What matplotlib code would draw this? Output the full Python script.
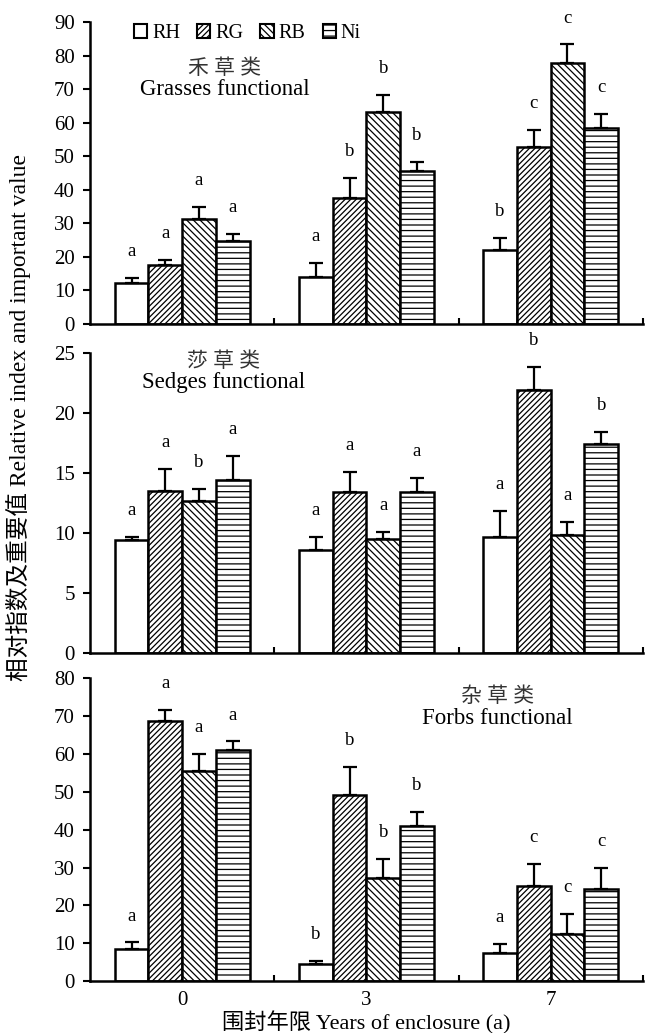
import matplotlib
matplotlib.use("Agg")
import matplotlib.pyplot as plt
from matplotlib.patches import Patch
import numpy as np

plt.rcParams['font.family'] = ['Liberation Serif', 'Noto Sans CJK SC']
plt.rcParams['hatch.linewidth'] = 0.9
plt.rcParams['axes.unicode_minus'] = False

years = ["0", "3", "7"]
series = ["RH", "RG", "RB", "Ni"]
hatches = ["", "//////", "\\\\\\\\\\", "---"]

# grasses functional group
grass_mean = [[12.2, 14.1, 22.0],
              [17.6, 37.4, 52.8],
              [31.4, 63.3, 77.7],
              [24.8, 45.7, 58.5]]
grass_err = [[1.5, 4.0, 3.7],
             [1.5, 6.0, 5.0],
             [3.5, 4.9, 5.6],
             [2.0, 2.7, 4.1]]
grass_letters = [["a", "a", "b"],
                 ["a", "b", "c"],
                 ["a", "b", "c"],
                 ["a", "b", "c"]]

# sedges functional group
sedge_mean = [[9.4, 8.6, 9.7],
              [13.5, 13.4, 21.9],
              [12.7, 9.5, 9.8],
              [14.4, 13.4, 17.4]]
sedge_err = [[0.3, 1.1, 2.1],
             [1.8, 1.7, 1.9],
             [1.0, 0.6, 1.1],
             [2.0, 1.2, 1.0]]
sedge_letters = [["a", "a", "a"],
                 ["a", "a", "b"],
                 ["b", "a", "a"],
                 ["a", "a", "b"]]

# forbs functional group
forb_mean = [[8.5, 4.5, 7.5],
             [68.7, 49.2, 25.1],
             [55.5, 27.1, 12.3],
             [61.0, 41.0, 24.2]]
forb_err = [[1.7, 0.9, 2.3],
            [2.9, 7.4, 5.8],
            [4.4, 5.2, 5.4],
            [2.3, 3.7, 5.7]]
forb_letters = [["a", "b", "a"],
                ["a", "b", "c"],
                ["a", "b", "c"],
                ["a", "b", "c"]]

panels = [
    (grass_mean, grass_err, grass_letters, 90, 10, "禾 草 类", "Grasses functional", (0.243, 0.843, 0.775)),
    (sedge_mean, sedge_err, sedge_letters, 25, 5, "莎 草 类", "Sedges functional", (0.242, 0.968, 0.9)),
    (forb_mean, forb_err, forb_letters, 80, 10, "杂 草 类", "Forbs functional", (0.737, 0.937, 0.866)),
]

fig = plt.figure(figsize=(6.48, 10.33), dpi=100)
boxes = [(0.1389, 0.6864, 0.853, 0.2923),
         (0.1389, 0.3679, 0.853, 0.2904),
         (0.1389, 0.0503, 0.853, 0.2931)]

x = np.arange(len(years))
w = 0.183
lw = 1.8

axes = []
for (mean, err, letters, ymax, step, cn, en, tpos), box in zip(panels, boxes):
    ax = fig.add_axes(box)
    axes.append(ax)
    for i in range(len(series)):
        xi = x + (i - 1.5) * w
        ax.bar(xi, mean[i], w, color="white", edgecolor="black", linewidth=lw,
               hatch=hatches[i], zorder=2)
        ax.errorbar(xi, mean[i], yerr=[np.zeros(3), err[i]], fmt="none",
                    ecolor="black", elinewidth=1.6, capsize=5, capthick=1.6, zorder=3)
        for j in range(3):
            ax.annotate(letters[i][j], (xi[j], mean[i][j] + err[i][j]),
                        xytext=(0, 19), textcoords="offset points",
                        ha="center", va="center", fontsize=13.5)
    ax.set_xlim(-0.5, 2.5)
    ax.set_ylim(0, ymax)
    ax.set_yticks(np.arange(0, ymax + 0.1, step))
    ax.tick_params(axis="y", direction="out", length=5, width=1.5, labelsize=15, pad=6)
    ax.set_xticks(x)
    ax.set_xticks([0.5, 1.5, 2.5], minor=True)
    ax.tick_params(axis="x", which="major", length=0, labelsize=15, pad=7)
    ax.tick_params(axis="x", which="minor", direction="in", length=4, width=1.5)
    for s in ["top", "right"]:
        ax.spines[s].set_visible(False)
    for s in ["left", "bottom"]:
        ax.spines[s].set_linewidth(1.8)
    ax.text(tpos[0], tpos[1], cn, transform=ax.transAxes, ha="center", va="center",
            fontsize=15, color="#333333")
    ax.text(tpos[0], tpos[2], en, transform=ax.transAxes, ha="center",
            va="center", fontsize=16.5)

axes[0].set_xticklabels([])
axes[1].set_xticklabels([])
axes[2].set_xticklabels(years)
axes[2].set_xlabel("围封年限 Years of enclosure (a)", fontsize=16, labelpad=1)

handles = [Patch(facecolor="white", edgecolor="black", linewidth=1.5, hatch=h) for h in hatches]
axes[0].legend(handles, series, loc="center left", bbox_to_anchor=(0.065, 0.962),
               ncol=4, frameon=False, fontsize=14.5, handlelength=0.65, handleheight=0.65,
               handletextpad=0.25, columnspacing=0.85, borderaxespad=0)

fig.text(0.029, 0.596, "相对指数及重要值 Relative index and important value",
         rotation=90, ha="center", va="center", fontsize=17)

fig.savefig("out.png", dpi=100)
